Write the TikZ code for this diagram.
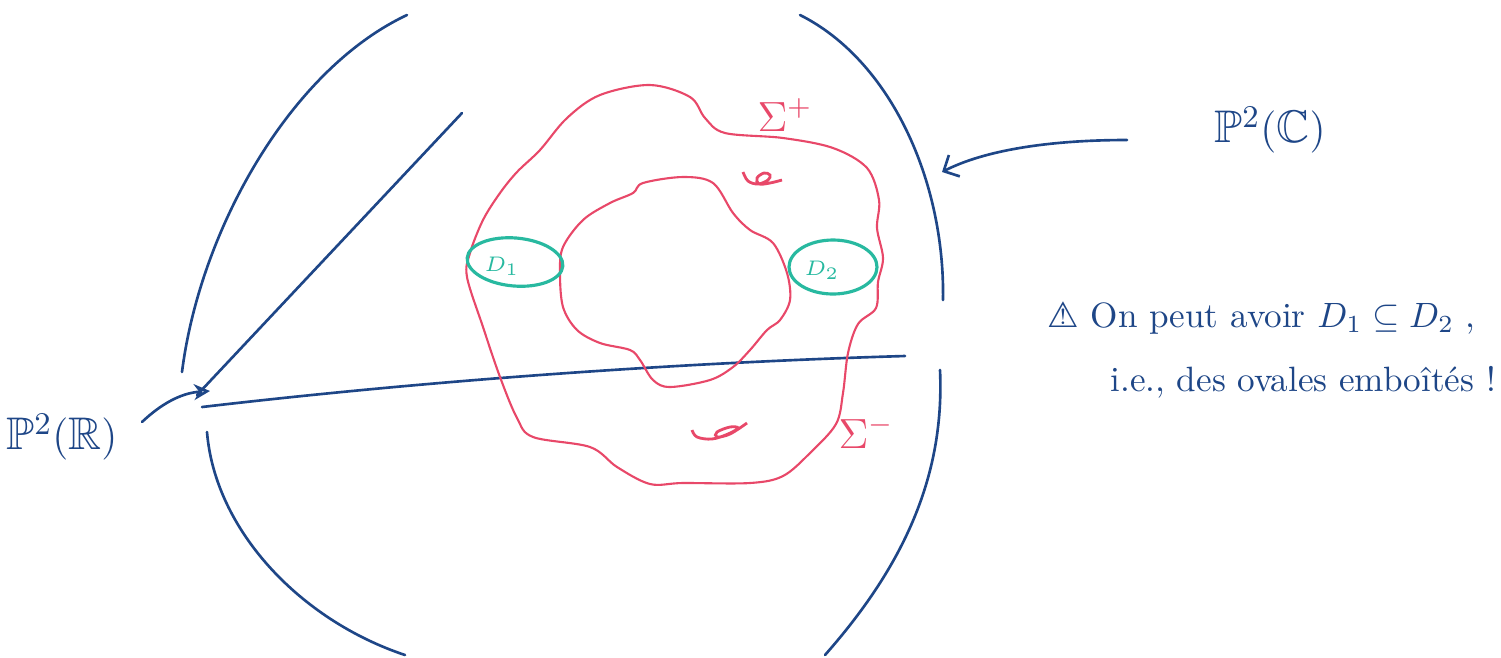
\documentclass[tikz,border=0pt]{standalone}
\usepackage{fontspec}
\usepackage{amssymb}
\usetikzlibrary{positioning, arrows.meta, calc}
\newfontfamily\warnfont{DejaVu Sans}
\definecolor{inkblue}{RGB}{30,70,135}
\definecolor{ovalred}{RGB}{232,72,105}
\definecolor{discteal}{RGB}{40,185,160}

\begin{document}
\begin{tikzpicture}[x=0.01cm, y=-0.01cm,
  line/.style={inkblue, line width=0.75pt, line cap=round},
  oval/.style={ovalred, line width=0.6pt},
  disc/.style={discteal, line width=0.9pt},
  lab/.style={inkblue, font=\fontsize{13}{15}\selectfont},
  note/.style={inkblue, font=\fontsize{10}{12}\selectfont},
  sig/.style={ovalred, font=\fontsize{12}{14}\selectfont},
  dlab/.style={discteal, font=\fontsize{6.5}{8}\selectfont}]
  \useasboundingbox (0,0) rectangle (1501,657);

  % labels
  \node[lab] (pc) at (1270,130) {$\mathbb{P}^2(\mathbb{C})$};
  \node[lab] (pr) at (62,437) {$\mathbb{P}^2(\mathbb{R})$};
  \node[note, anchor=west] (warn1) at (1035,318) {{\warnfont ⚠} On peut avoir $D_1 \subseteq D_2$ ,};
  \node[note, anchor=west] (warn2) at (1098,382) {i.e., des ovales emboîtés !};
  \node[sig] (splus) at (785,115) {$\Sigma^+$};
  \node[sig] (sminus) at (866,432) {$\Sigma^-$};
  \node[dlab] (d1) at (502,266) {$D_1$};
  \node[dlab] (d2) at (822,270) {$D_2$};
  \coordinate (pcTip) at (942,172);
  \coordinate (prTip) at (210,391);

  % the real plane
  \draw[line] (182,372) .. controls (200,230) and (290,70) .. (407,15);
  \draw[line] (207,432) .. controls (215,530) and (300,620) .. (405,655);
  \draw[line] (800,15) .. controls (890,60) and (945,180) .. (943,300);
  \draw[line] (940,370) .. controls (945,480) and (900,570) .. (825,655);
  \draw[line] (197,395) -- (462,113);
  \draw[line] (202,407) .. controls (450,378) and (700,362) .. (905,356);

  % the two ovals
  \draw[oval] plot[smooth cycle, tension=0.55] coordinates {
    (650,85) (690,97) (705,118) (725,133) (783,138) (833,148) (867,168)
    (879,200) (877,228) (883,258) (878,282) (876,308) (858,324) (848,353)
    (843,393) (836,424) (810,453) (783,476) (750,483) (683,483) (650,484)
    (617,467) (590,447) (533,437) (517,418) (500,377) (483,327) (467,277)
    (470,253) (483,220) (500,193) (517,172) (540,150) (567,118) (600,95)};
  \draw[oval] plot[smooth cycle, tension=0.55] coordinates {
    (643,183) (683,177) (713,183) (733,213) (750,230) (773,243) (787,273)
    (790,300) (780,320) (767,330) (750,350) (733,367) (710,380) (670,387)
    (653,380) (640,360) (630,350) (600,343) (577,330) (563,307) (560,273)
    (563,247) (583,220) (610,203) (633,193)};
  \draw[oval, line width=0.8pt] plot[smooth, tension=0.6] coordinates {
    (743,172) (748,181) (758,184) (768,180) (770,175) (764,173) (757,178)
    (759,184) (770,183) (782,180)};
  \draw[oval, line width=0.8pt] plot[smooth, tension=0.6] coordinates {
    (692,430) (697,437) (712,439) (728,434) (738,428) (730,427) (717,432)
    (717,437) (730,434) (747,423)};

  % discs
  \draw[disc, rotate around={-5:(515,262)}] (515,262) ellipse [x radius=48, y radius=24];
  \draw[disc] (833,267) ellipse [x radius=44, y radius=27];

  % arrows
  \draw[line, -{Straight Barb[length=1.2mm]}] ([shift={(-75,10)}]pc.west)
    .. controls (1050,140) and (985,150) .. (pcTip);
  \draw[line, -{Stealth[open, length=1.6mm, width=1.6mm]}] ([shift={(12,-15)}]pr.east)
    .. controls (160,405) and (180,393) .. (prTip);
\end{tikzpicture}
\end{document}
